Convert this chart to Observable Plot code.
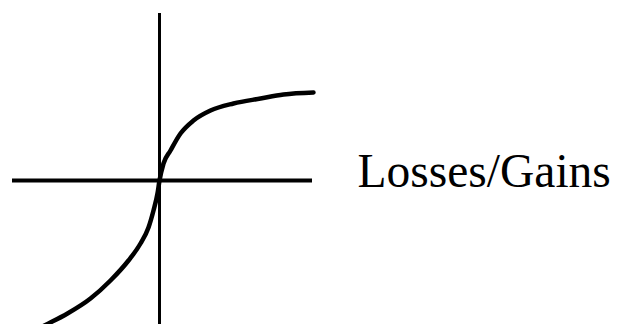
<!DOCTYPE html>
<html>
<head>
<meta charset="utf-8">
<script src="https://cdn.jsdelivr.net/npm/d3@7"></script>
<script src="https://cdn.jsdelivr.net/npm/@observablehq/plot@0.6"></script>
<style>
html,body{margin:0;padding:0;background:#fff;}
#chart svg{display:block;}
</style>
</head>
<body>
<div id="chart"></div>
<script>
// Value function (prospect theory), origin = reference point
const curveX = [-2.38, -2.22, -1.84, -1.38, -0.98, -0.62, -0.38, -0.22, -0.12, -0.04, 0, 0.08, 0.22, 0.42, 0.68, 1.02, 1.48, 2.02, 2.48, 3.08];
const curveY = [-2.94, -2.86, -2.66, -2.36, -2.0, -1.6, -1.26, -0.94, -0.6, -0.26, 0, 0.34, 0.6, 0.94, 1.2, 1.4, 1.54, 1.64, 1.72, 1.76];
const hAxisX = [-2.94, 3.06];
const vAxisY = [-2.9, 3.34];
const label = ["Losses/Gains"];
const labelPos = [[3.96, 0.17]];

const curve = curveX.map((x, i) => ({x, y: curveY[i]}));

const plot = Plot.plot({
  width: 617,
  height: 324,
  margin: 0,
  x: {domain: [-3.18, 9.16], axis: null},
  y: {domain: [-2.88, 3.6], axis: null},
  marks: [
    Plot.ruleY([0], {x1: hAxisX[0], x2: hAxisX[1], stroke: "#000", strokeWidth: 4}),
    Plot.ruleX([0], {y1: vAxisY[0], y2: vAxisY[1], stroke: "#000", strokeWidth: 3}),
    Plot.line(curve, {x: "x", y: "y", curve: "monotone-x", stroke: "#000", strokeWidth: 4.5, clip: true}),
    Plot.text(label, {x: () => labelPos[0][0], y: () => labelPos[0][1], text: d => d, textAnchor: "start", fontFamily: "Liberation Serif", fontSize: 47.5, fill: "#000"})
  ]
});
document.getElementById("chart").appendChild(plot);
</script>
</body>
</html>
